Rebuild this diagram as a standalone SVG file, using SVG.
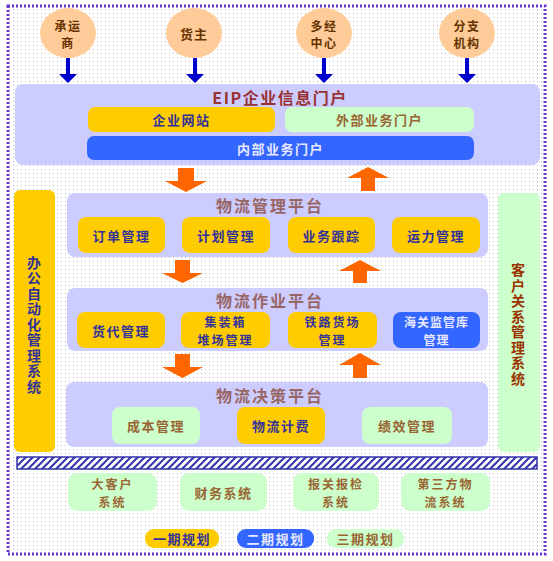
<svg xmlns="http://www.w3.org/2000/svg" width="553" height="561" viewBox="0 0 553 561">
<defs>
<pattern id="dots" width="4" height="4" patternUnits="userSpaceOnUse"><rect x="1" y="1" width="1" height="1" fill="#a0a0a0"/></pattern>
<pattern id="hatch" width="7" height="7" patternUnits="userSpaceOnUse"><rect width="7" height="7" fill="#ffffff"/><path d="M-1,8 L8,-1 M-1,1 L1,-1 M6,8 L8,6" stroke="#3333aa" stroke-width="2"/></pattern>
<style>
text{font-family:"Noto Sans CJK SC","Noto Sans",sans-serif;font-weight:bold;text-anchor:middle;dominant-baseline:central}
.panel{fill:#ccccff}
.gold{fill:#ffcc00}
.green{fill:#ccffcc}
.blue{fill:#3366ff}
.circ{fill:#ffcc99}
.ct{font-size:13px;fill:#663300;letter-spacing:1px}
.ct2{font-size:12px;fill:#663300;letter-spacing:1.5px}
.title{font-size:16px;fill:#996666;letter-spacing:2px}
.it{font-size:13px;letter-spacing:1.5px}
.it2{font-size:12px;letter-spacing:2px}
.tg{fill:#333399}
.tb{fill:#996633}
.tw{fill:#e8e8ff}
.vt{font-size:14px;writing-mode:vertical-rl;letter-spacing:1.5px}
.barl{fill:#333399}
.barr{fill:#993300}
.ba{fill:#0000cc}
.oa{fill:#ff6600}
</style>
</defs>
<rect width="553" height="561" fill="#ffffff"/>
<rect x="8" y="6" width="537" height="548" fill="url(#dots)" opacity="0.7"/>
<rect x="8" y="6" width="537" height="548" fill="none" stroke="#6633cc" stroke-width="3" stroke-dasharray="2 2"/>

<g id="n-chengyunshang"><ellipse class="circ" cx="68" cy="33" rx="28" ry="25"/><text class="ct2"><tspan x="68" y="24.5">承运</tspan><tspan x="68" y="42">商</tspan></text></g>
<g id="n-huozhu"><ellipse class="circ" cx="194" cy="33" rx="28" ry="25"/><text class="ct" x="194" y="33">货主</text></g>
<g id="n-duojing"><ellipse class="circ" cx="324" cy="33" rx="28" ry="25"/><text class="ct2"><tspan x="324" y="24.5">多经</tspan><tspan x="324" y="42">中心</tspan></text></g>
<g id="n-fenzhi"><ellipse class="circ" cx="467" cy="33" rx="28" ry="25"/><text class="ct2"><tspan x="467" y="24.5">分支</tspan><tspan x="467" y="42">机构</tspan></text></g>

<g id="n-eip"><rect class="panel" x="15" y="84" width="525" height="81" rx="8"/><text x="280" y="97" style="font-size:16px;fill:#993333;letter-spacing:1.5px">EIP企业信息门户</text></g>
<g id="n-qiyewangzhan"><rect class="gold" x="88" y="107" width="187" height="25" rx="7"/><text class="it tg" x="181.5" y="119.5">企业网站</text></g>
<g id="n-waibu"><rect class="green" x="285" y="107" width="189" height="25" rx="7"/><text class="it tb" x="379.5" y="119.5">外部业务门户</text></g>
<g id="n-neibu"><rect class="blue" x="87" y="136" width="387" height="24" rx="7"/><text class="it tw" x="280.5" y="148">内部业务门户</text></g>

<g id="n-oa"><rect class="gold" x="14" y="190" width="41" height="262" rx="6"/><text class="vt barl" x="34" y="325">办公自动化管理系统</text></g>
<g id="n-crm"><rect class="green" x="498" y="193" width="42" height="259" rx="6"/><text class="vt barr" x="518" y="325">客户关系管理系统</text></g>

<g id="n-guanli"><rect class="panel" x="67" y="193" width="421" height="64" rx="8"/><text class="title" x="270" y="205">物流管理平台</text></g>
<g id="n-dingdan"><rect class="gold" x="78" y="217" width="87" height="36" rx="8"/><text class="it tg" x="121.5" y="235">订单管理</text></g>
<g id="n-jihua"><rect class="gold" x="182" y="217" width="88" height="36" rx="8"/><text class="it tg" x="226" y="235">计划管理</text></g>
<g id="n-genzong"><rect class="gold" x="288" y="217" width="87" height="36" rx="8"/><text class="it tg" x="331.5" y="235">业务跟踪</text></g>
<g id="n-yunli"><rect class="gold" x="392" y="217" width="88" height="36" rx="8"/><text class="it tg" x="436" y="235">运力管理</text></g>

<g id="n-zuoye"><rect class="panel" x="67" y="288" width="421" height="63" rx="8"/><text class="title" x="270" y="300">物流作业平台</text></g>
<g id="n-huodai"><rect class="gold" x="77" y="312" width="88" height="36" rx="8"/><text class="it tg" x="121" y="330">货代管理</text></g>
<g id="n-jizhuangxiang"><rect class="gold" x="181" y="312" width="89" height="36" rx="8"/><text class="it2 tg"><tspan x="225.5" y="321.2">集装箱</tspan><tspan x="225.5" y="338.8">堆场管理</tspan></text></g>
<g id="n-tielu"><rect class="gold" x="288" y="312" width="89" height="36" rx="8"/><text class="it2 tg"><tspan x="332.5" y="321.2">铁路货场</tspan><tspan x="332.5" y="338.8">管理</tspan></text></g>
<g id="n-haiguan"><rect class="blue" x="393" y="312" width="87" height="36" rx="8"/><text class="it2 tw" style="letter-spacing:1px"><tspan x="436.5" y="321.2">海关监管库</tspan><tspan x="436.5" y="338.8">管理</tspan></text></g>

<g id="n-juece"><rect class="panel" x="66" y="382" width="422" height="65" rx="8"/><text class="title" x="270" y="395">物流决策平台</text></g>
<g id="n-chengben"><rect class="green" x="112" y="407" width="88" height="37" rx="8"/><text class="it tb" x="156" y="425.5">成本管理</text></g>
<g id="n-jifei"><rect class="gold" x="237" y="407" width="88" height="37" rx="8"/><text class="it tg" x="281" y="425.5">物流计费</text></g>
<g id="n-jixiao"><rect class="green" x="362" y="407" width="90" height="37" rx="8"/><text class="it tb" x="407" y="425.5">绩效管理</text></g>

<g id="n-bus"><rect x="17" y="457" width="520" height="12" fill="url(#hatch)" stroke="#3333aa" stroke-width="1.5"/></g>

<g id="n-dakehu"><rect class="green" x="68" y="473" width="89" height="38" rx="9"/><text class="it2 tb"><tspan x="112.5" y="483.2">大客户</tspan><tspan x="112.5" y="500.8">系统</tspan></text></g>
<g id="n-caiwu"><rect class="green" x="180" y="473" width="87" height="38" rx="9"/><text class="it tb" x="223.5" y="492">财务系统</text></g>
<g id="n-baoguan"><rect class="green" x="293" y="473" width="86" height="38" rx="9"/><text class="it2 tb"><tspan x="336" y="483.2">报关报检</tspan><tspan x="336" y="500.8">系统</tspan></text></g>
<g id="n-disanfang"><rect class="green" x="401" y="473" width="89" height="38" rx="9"/><text class="it2 tb"><tspan x="445.5" y="483.2">第三方物</tspan><tspan x="445.5" y="500.8">流系统</tspan></text></g>

<g id="n-legend1"><rect class="gold" x="145" y="529" width="74" height="19" rx="9"/><text class="it tg" x="182" y="538.5">一期规划</text></g>
<g id="n-legend2"><rect class="blue" x="237" y="529" width="77" height="19" rx="9"/><text class="it tw" x="275.5" y="538.5">二期规划</text></g>
<g id="n-legend3"><rect class="green" x="327" y="529" width="77" height="19" rx="9"/><text class="it tb" x="365.5" y="538.5">三期规划</text></g>

<g id="connectors">
<path class="ba" d="M66,58 h4 v16 h7 l-9,9 l-9,-9 h7 z"/>
<path class="ba" d="M193,58 h4 v16 h7 l-9,9 l-9,-9 h7 z"/>
<path class="ba" d="M322,58 h4 v16 h7 l-9,9 l-9,-9 h7 z"/>
<path class="ba" d="M465,58 h4 v16 h7 l-9,9 l-9,-9 h7 z"/>
<path class="oa" d="M178,168 h16 v13 h13 l-21,11 l-21,-11 h13 z"/>
<path class="oa" d="M361,191 h14 v-13 h14 l-21,-11 l-21,11 h14 z"/>
<path class="oa" d="M175,260 h15 v13 h13 l-20.5,10 l-20.5,-10 h13 z"/>
<path class="oa" d="M353,283 h14 v-12 h14 l-21,-11 l-21,11 h14 z"/>
<path class="oa" d="M175,354 h15 v13 h13 l-20.5,11 l-20.5,-11 h13 z"/>
<path class="oa" d="M353,378 h14 v-13 h14 l-21,-12 l-21,12 h14 z"/>
</g>
</svg>
